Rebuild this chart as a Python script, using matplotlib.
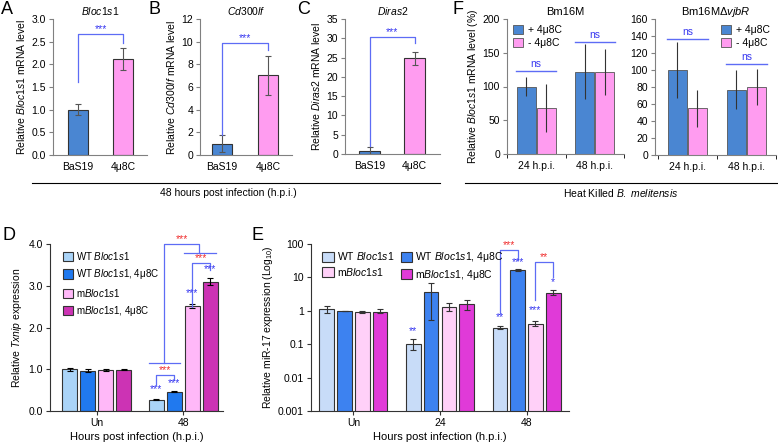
import matplotlib.pyplot as plt
from matplotlib.lines import Line2D
import numpy as np

plt.rcParams["font.family"] = ["Liberation Sans", "DejaVu Sans"]
plt.rcParams["mathtext.fontset"] = "custom"
plt.rcParams["mathtext.rm"] = "Liberation Sans"
plt.rcParams["mathtext.it"] = "Liberation Sans:italic"
plt.rcParams["font.size"] = 7.5
plt.rcParams["axes.linewidth"] = 0.8
plt.rcParams["xtick.major.size"] = 3
plt.rcParams["ytick.major.size"] = 3
plt.rcParams["xtick.major.pad"] = 2
plt.rcParams["ytick.major.pad"] = 2

# ---- data ----
abc_groups = ["BaS19", "4μ8C"]
a_mean, a_err = [1.0, 2.12], [0.12, 0.25]
b_mean, b_err = [1.0, 7.05], [0.77, 1.72]
c_mean, c_err = [0.9, 24.8], [0.8, 1.7]

f_groups = ["24 h.p.i.", "48 h.p.i."]
f_labels = ["+ 4μ8C", "- 4μ8C"]
f1_plus, f1_plus_err = [100, 122], [14, 41]
f1_minus, f1_minus_err = [68, 122], [35, 34]
f2_plus, f2_plus_err = [100, 77], [33, 23]
f2_minus, f2_minus_err = [55, 80], [22, 21]
f1_ns = [123, 166]
f2_ns = [137, 107]

d_groups = ["Un", "48"]
de_labels = ["WT $\\it{Bloc1s1}$", "WT $\\it{Bloc1s1}$, 4μ8C",
             "m$\\it{Bloc1s1}$", "m$\\it{Bloc1s1}$, 4μ8C"]
d_vals = [[1.0, 0.27], [0.97, 0.46], [0.99, 2.52], [0.99, 3.10]]
d_errs = [[0.03, 0.015], [0.04, 0.015], [0.02, 0.05], [0.01, 0.08]]

e_groups = ["Un", "24", "48"]
e_vals = [[1.1, 0.1, 0.31], [0.98, 3.7, 16.9], [0.93, 1.31, 0.41], [0.95, 1.57, 3.37]]
e_low = [[0.85, 0.065, 0.28], [0.96, 0.52, 16.0], [0.88, 1.0, 0.36], [0.85, 1.05, 2.9]]
e_high = [[1.4, 0.14, 0.34], [1.0, 7.0, 18.0], [0.98, 1.7, 0.48], [1.1, 2.1, 4.2]]

BLUE, PINK = "#4a86d2", "#ff9cf0"
D_COLORS = ["#aad4f8", "#2079ef", "#ffb8f8", "#cc33b4"]
E_COLORS = ["#c8dcf8", "#3d82f0", "#ffd0f8", "#e03ad8"]
LINE_BLUE, STAR_BLUE, STAR_RED = "#5d6cf5", "#3838f0", "#f03030"
STAR_SIZE = 7.5

W, H = 778, 445
fig = plt.figure(figsize=(W / 100, H / 100), dpi=100)


def box(l, t, r, b):
    return [l / W, 1 - b / H, (r - l) / W, (b - t) / H]


def style(ax, color="#808080"):
    for s in ["top", "right"]:
        ax.spines[s].set_visible(False)
    for s in ["left", "bottom"]:
        ax.spines[s].set_color(color)
    ax.tick_params(color=color)


def bracket(ax, x1, x2, y1, ytop, y2, text, ytext, tcolor):
    ax.plot([x1, x1, x2, x2], [y1, ytop, ytop, y2], color=LINE_BLUE, lw=0.9, clip_on=False)
    ax.text((x1 + x2) / 2, ytext, text, color=tcolor, ha="center", va="bottom",
            fontsize=STAR_SIZE, clip_on=False)


# ---- A, B, C ----
abc = [
    (box(53, 19, 147, 155), a_mean, a_err, (-0.56, 1.53), 3.0, 0.5, "$\\it{Bloc1s1}$", 0.44,
     (1.62, 2.66, 2.46)),
    (box(200, 19, 292, 155), b_mean, b_err, (-0.48, 1.52), 12, 2, "$\\it{Cd300lf}$", 0.43,
     (1.8, 9.85, 9.26)),
    (box(345, 19, 440, 154), c_mean, c_err, (-0.56, 1.57), 35, 5, "$\\it{Diras2}$", 0.47,
     (2.0, 30.3, 28.7)),
]
for rect, mean, err, xl, ymax, step, gene, w, br in abc:
    ax = fig.add_axes(rect)
    x = np.arange(len(abc_groups))
    ax.bar(x, mean, width=w, color=[BLUE, PINK], edgecolor="#333333", linewidth=0.8,
           yerr=err, error_kw=dict(ecolor="#555555", elinewidth=0.8, capsize=2.5, capthick=0.8))
    ax.set_xlim(*xl)
    ax.set_ylim(0, ymax)
    ticks = np.arange(0, ymax + step / 2, step)
    ax.set_yticks(ticks)
    if ymax == 3.0:
        ax.set_yticklabels([f"{v:.1f}" for v in ticks])
    ax.set_xticks(x)
    ax.set_xticklabels(abc_groups)
    ax.tick_params(axis="x", length=0, pad=5)
    ax.set_title(gene, fontsize=7.5, pad=3)
    ax.set_ylabel(f"Relative {gene} mRNA level", fontsize=7.5, labelpad=3)
    style(ax)
    bracket(ax, 0, 1, br[0], br[1], br[2], "***", br[1], STAR_BLUE)

# ---- F ----
for rect, title, plus, plus_err, minus, minus_err, ns, ymax, step, loc, ylab in [
    (box(507, 19, 624, 154), "Bm16M", f1_plus, f1_plus_err, f1_minus, f1_minus_err, f1_ns,
     200, 50, "upper left", True),
    (box(655, 19, 776, 155), "Bm16MΔ$\\it{vjbR}$", f2_plus, f2_plus_err, f2_minus, f2_minus_err,
     f2_ns, 160, 20, "upper right", False),
]:
    ax = fig.add_axes(rect)
    x = np.arange(len(f_groups))
    w = 0.33
    ek = dict(ecolor="#333333", elinewidth=0.8, capsize=0)
    ax.bar(x - 0.17, plus, width=w, color=BLUE, edgecolor="#555555", linewidth=0.6,
           yerr=plus_err, error_kw=ek, label=f_labels[0])
    ax.bar(x + 0.17, minus, width=w, color=PINK, edgecolor="#555555", linewidth=0.6,
           yerr=minus_err, error_kw=ek, label=f_labels[1])
    for xi, yv in zip(x, ns):
        ax.plot([xi - 0.34, xi + 0.34], [yv, yv], color=LINE_BLUE, lw=1.0)
        ax.text(xi, yv + ymax * 0.015, "ns", color=STAR_BLUE, ha="center", va="bottom",
                fontsize=7.5)
    ax.set_xlim(-0.5 if ylab else -0.55, 1.5)
    ax.set_ylim(0, ymax)
    ax.set_yticks(np.arange(0, ymax + 1, step))
    ax.set_xticks(x)
    ax.set_xticklabels(f_groups)
    ax.set_xticks([-0.5, 0.5, 1.5], minor=True)
    ax.tick_params(axis="x", which="major", length=0, pad=5)
    ax.tick_params(axis="x", which="minor", length=3)
    ax.set_title(title, fontsize=8, pad=3)
    if ylab:
        ax.set_ylabel("Relative $\\it{Bloc1s1}$ mRNA level (%)", fontsize=7.5, labelpad=2)
    style(ax)
    ax.legend(loc=loc, frameon=False, fontsize=7.5, handlelength=0.9, handleheight=0.9,
              handletextpad=0.5, labelspacing=0.3, borderaxespad=0.2)

# ---- D ----
offsets = np.array([-0.3125, -0.104, 0.104, 0.3125])
ax = fig.add_axes(box(50, 244, 223, 411))
x = np.arange(len(d_groups))
for i in range(4):
    ax.bar(x + offsets[i], d_vals[i], width=0.17, color=D_COLORS[i], edgecolor="#333333",
           linewidth=0.8, yerr=d_errs[i], label=de_labels[i],
           error_kw=dict(ecolor="black", elinewidth=0.8, capsize=2.5, capthick=0.8))
ax.set_xlim(-0.54, 1.46)
ax.set_ylim(0, 4)
ax.set_yticks([0, 1, 2, 3, 4])
ax.set_yticklabels(["0.0", "1.0", "2.0", "3.0", "4.0"])
ax.set_xticks(x)
ax.set_xticklabels(d_groups)
ax.set_xlabel("Hours post infection (h.p.i.)", fontsize=8, labelpad=3)
ax.set_ylabel("Relative $\\it{Txnip}$ expression", fontsize=7.5, labelpad=3)
style(ax, "#333333")
ax.legend(loc="upper left", frameon=False, fontsize=7, handlelength=1.1, handleheight=1.1,
          handletextpad=0.3, labelspacing=0.55, borderaxespad=0.2, bbox_to_anchor=(0.04, 1.0))
bx = 1 + offsets
for i, y in [(0, 0.4), (1, 0.55), (2, 2.7), (3, 3.28)]:
    ax.text(bx[i], y, "***", color=STAR_BLUE, ha="center", va="bottom", fontsize=STAR_SIZE)
bracket(ax, bx[0], bx[1], 0.62, 0.86, 0.74, "***", 0.86, STAR_RED)
bracket(ax, bx[2], bx[3], 2.5, 3.54, 3.38, "***", 3.54, STAR_RED)
ax.plot([0.607, 0.965], [1.15, 1.15], color=LINE_BLUE, lw=0.9)
ax.plot([1.01, 1.38], [3.78, 3.78], color=LINE_BLUE, lw=0.9)
bracket(ax, 0.78, 1.185, 1.15, 4.0, 3.78, "***", 4.0, STAR_RED)

# ---- E ----
ax = fig.add_axes(box(311, 244, 569, 411))
x = np.arange(len(e_groups))
ex = offsets * 0.985
bars = []
for i in range(4):
    v = np.array(e_vals[i])
    yerr = [v - np.array(e_low[i]), np.array(e_high[i]) - v]
    bars.append(ax.bar(x + ex[i], v, width=0.17, color=E_COLORS[i], edgecolor="#333333",
                       linewidth=0.8, yerr=yerr, label=de_labels[i],
                       error_kw=dict(ecolor="#333333", elinewidth=0.8, capsize=2.5,
                                     capthick=0.8)))
ax.set_yscale("log")
ax.set_ylim(0.001, 100)
ax.set_yticks([0.001, 0.01, 0.1, 1, 10, 100])
ax.set_yticklabels(["0.001", "0.01", "0.1", "1", "10", "100"])
ax.minorticks_off()
ax.set_xlim(-0.49, 2.49)
ax.set_xticks(x)
ax.set_xticklabels(e_groups)
ax.set_xlabel("Hours post infection (h.p.i.)", fontsize=8, labelpad=3)
ax.set_ylabel("Relative miR-17 expression (Log$_{10}$)", fontsize=7.5, labelpad=2)
style(ax, "#333333")
order = [0, 2, 1, 3]
ax.legend([bars[i] for i in order], [de_labels[i] for i in order], loc="upper left", ncol=2,
          frameon=False, fontsize=7.5, handlelength=1.1, handleheight=1.1, handletextpad=0.3,
          labelspacing=0.35, columnspacing=0.6, borderaxespad=0.2, bbox_to_anchor=(0.02, 1.0))
for g, i, s, y in [(1, 0, "**", 0.18), (2, 0, "**", 0.45), (2, 1, "***", 20),
                   (2, 2, "***", 0.75), (2, 3, "*", 5.2)]:
    ax.text(g + ex[i], y, s, color=STAR_BLUE, ha="center", va="bottom", fontsize=STAR_SIZE)
bracket(ax, 2 + ex[0], 2 + ex[1], 0.85, 66, 33, "***", 66, STAR_RED)
bracket(ax, 2 + ex[2], 2 + ex[3], 2.1, 29, 10.2, "**", 29, STAR_RED)

# ---- panel letters, group lines ----
for lx, ly, s in [(1, 1, "A"), (149, 1, "B"), (297, 1, "C"), (452, 1, "F"),
                  (3, 227, "D"), (252, 227, "E")]:
    fig.text(lx / W, 1 - ly / H, s, fontsize=13, va="top", ha="left")
fig.add_artist(Line2D([32 / W, 440 / W], [1 - 183 / H] * 2, color="black", lw=0.8))
fig.add_artist(Line2D([465 / W, 778 / W], [1 - 183 / H] * 2, color="black", lw=0.8))
fig.text(228 / W, 1 - 193 / H, "48 hours post infection (h.p.i.)", fontsize=7.5,
         ha="center", va="center")
fig.text(621 / W, 1 - 193 / H, "Heat Killed $\\it{B.\\ melitensis}$", fontsize=7.5,
         ha="center", va="center")

fig.savefig("out.png", dpi=100)
